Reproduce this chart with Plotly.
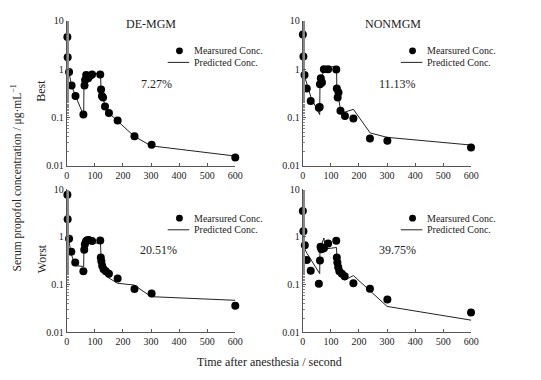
import plotly.graph_objects as go

# The page body has an 8px margin, so the figure is sized to fill the rest of the window
PAGE_OFFSET = 8
W, H = 541 - PAGE_OFFSET, 380 - PAGE_OFFSET

# ---------------- data ----------------
panels = ["DE-MGM Best", "NONMGM Best", "DE-MGM Worst", "NONMGM Worst"]
col_titles = ["DE-MGM", "NONMGM"]
row_titles = ["Best", "Worst"]
errors = ["7.27%", "11.13%", "20.51%", "39.75%"]
x_ticks = [0, 100, 200, 300, 400, 500, 600]
y_ticks = [0.01, 0.1, 1, 10]
y_ticklabels = ["0.01", "0.1", "1", "10"]

# DE-MGM Best
t_meas_1 = [2, 3, 8, 17, 31, 59, 63, 65, 69, 76, 82, 90, 119, 122, 125, 129, 136, 150, 181, 241, 302, 600]
c_meas_1 = [4.6, 1.77, 0.87, 0.46, 0.28, 0.115, 0.46, 0.60, 0.76, 0.65, 0.72, 0.78, 0.78, 0.38, 0.28, 0.26, 0.17, 0.124, 0.087, 0.041, 0.0275, 0.015]
t_pred_1 = [0, 3, 8, 17, 31, 60, 61, 65, 70, 90, 120, 122, 125, 130, 136, 150, 180, 240, 300, 600]
c_pred_1 = [4.6, 1.7, 0.85, 0.45, 0.28, 0.11, 0.45, 0.62, 0.75, 0.8, 0.82, 0.38, 0.29, 0.25, 0.17, 0.124, 0.087, 0.041, 0.026, 0.016]

# NONMGM Best
t_meas_2 = [0, 2, 6, 14, 28, 57, 60, 61, 64, 68, 75, 90, 119, 121, 124, 127, 134, 150, 180, 239, 301, 599]
c_meas_2 = [5.2, 1.83, 0.76, 0.40, 0.22, 0.16, 0.165, 0.49, 0.65, 0.53, 1.0, 1.0, 0.98, 0.40, 0.26, 0.33, 0.138, 0.108, 0.096, 0.037, 0.033, 0.024]
t_pred_2 = [0, 3, 10, 15, 30, 60, 61, 70, 90, 120, 121, 125, 135, 150, 180, 240, 300, 600]
c_pred_2 = [5.5, 0.9, 0.6, 0.48, 0.25, 0.115, 0.5, 0.8, 1.1, 1.15, 0.4, 0.3, 0.135, 0.13, 0.148, 0.048, 0.039, 0.027]

# DE-MGM Worst
t_meas_3 = [2, 3, 8, 16, 30, 59, 62, 64, 68, 72, 78, 90, 119, 121, 123, 126, 131, 139, 150, 181, 241, 302, 600]
c_meas_3 = [7.6, 2.35, 0.92, 0.49, 0.29, 0.19, 0.54, 0.69, 0.8, 0.85, 0.86, 0.82, 0.84, 0.37, 0.31, 0.25, 0.21, 0.19, 0.17, 0.134, 0.081, 0.065, 0.036]
t_pred_3 = [0, 3, 8, 15, 30, 60, 61, 66, 75, 120, 122, 130, 140, 180, 240, 300, 600]
c_pred_3 = [7.6, 2.0, 0.8, 0.45, 0.25, 0.24, 0.6, 0.78, 0.75, 0.74, 0.35, 0.22, 0.15, 0.107, 0.098, 0.056, 0.047]

# NONMGM Worst
t_meas_4 = [0, 2, 7, 14, 28, 57, 61, 63, 66, 75, 90, 119, 121, 123, 126, 130, 139, 149, 180, 239, 301, 599]
c_meas_4 = [3.5, 1.32, 0.67, 0.33, 0.195, 0.105, 0.32, 0.62, 0.55, 0.58, 0.73, 0.83, 0.37, 0.29, 0.23, 0.19, 0.17, 0.15, 0.107, 0.082, 0.049, 0.026]
t_pred_4 = [0, 4, 15, 60, 61, 75, 80, 120, 122, 140, 150, 180, 300, 600]
c_pred_4 = [3.8, 0.6, 0.45, 0.17, 0.55, 0.95, 0.56, 0.6, 0.3, 0.13, 0.125, 0.155, 0.035, 0.018]

meas_t = [t_meas_1, t_meas_2, t_meas_3, t_meas_4]
meas_c = [c_meas_1, c_meas_2, c_meas_3, c_meas_4]
pred_t = [t_pred_1, t_pred_2, t_pred_3, t_pred_4]
pred_c = [c_pred_1, c_pred_2, c_pred_3, c_pred_4]

# ---------------- layout ----------------
FONT = "Liberation Serif"
px = lambda v: (v - PAGE_OFFSET) / W          # window pixel -> paper x
py = lambda v: 1 - (v - PAGE_OFFSET) / H      # window pixel -> paper y

x_domains = [[px(65), px(237)], [px(306), px(478)], [px(65), px(237)], [px(306), px(478)]]
y_domains = [[py(165), py(15)], [py(165), py(15)], [py(337), py(189)], [py(337), py(189)]]

fig = go.Figure()

for i in range(4):
    xa = "x" if i == 0 else f"x{i+1}"
    ya = "y" if i == 0 else f"y{i+1}"
    fig.add_trace(go.Scatter(x=pred_t[i], y=pred_c[i], mode="lines",
                             line=dict(color="#222222", width=1),
                             xaxis=xa, yaxis=ya, showlegend=False, cliponaxis=False))
    fig.add_trace(go.Scatter(x=meas_t[i], y=meas_c[i], mode="markers",
                             marker=dict(color="black", size=8),
                             xaxis=xa, yaxis=ya, showlegend=False, cliponaxis=False))

layout = dict(
    width=W, height=H,
    margin=dict(l=0, r=0, t=0, b=0),
    paper_bgcolor="white", plot_bgcolor="white",
    font=dict(family=FONT, size=10, color="#222222"),
    showlegend=False,
)
for i in range(4):
    sx = "xaxis" if i == 0 else f"xaxis{i+1}"
    sy = "yaxis" if i == 0 else f"yaxis{i+1}"
    ya = "y" if i == 0 else f"y{i+1}"
    xa = "x" if i == 0 else f"x{i+1}"
    layout[sx] = dict(domain=x_domains[i], anchor=ya, range=[0, 600],
                      tickvals=x_ticks, ticks="inside", ticklen=3, tickcolor="#555",
                      showline=True, linecolor="#555", linewidth=1,
                      showgrid=False, zeroline=False,
                      tickfont=dict(family=FONT, size=10, color="#222"))
    layout[sy] = dict(domain=y_domains[i], anchor=xa, type="log", range=[-2, 1],
                      tickvals=y_ticks, ticktext=y_ticklabels,
                      ticks="inside", ticklen=3, tickcolor="#555",
                      minor=dict(ticks="inside", ticklen=2, tickcolor="#888", showgrid=False),
                      showline=True, linecolor="#555", linewidth=1,
                      showgrid=False, zeroline=False,
                      tickfont=dict(family=FONT, size=10, color="#222"))
fig.update_layout(**layout)

ann = []
shapes = []


def add_text(text, x, y, size, xanchor="center", angle=0):
    ann.append(dict(text=text, x=px(x), y=py(y), xref="paper", yref="paper",
                    xanchor=xanchor, yanchor="middle", textangle=angle,
                    showarrow=False, font=dict(family=FONT, size=size, color="#222")))


# column titles
add_text(col_titles[0], 151, 18, 12)
add_text(col_titles[1], 398, 18, 12)
# row titles
add_text(row_titles[0], 39, 87, 12, angle=-90)
add_text(row_titles[1], 39, 261, 12, angle=-90)
# error percentages
err_pos = [(157, 80), (403, 80), (159, 252), (403, 252)]
for e, (ex, ey) in zip(errors, err_pos):
    add_text(e, ex, ey, 12)
# legends
leg_pos = [(168, 46), (406, 46), (168, 219), (406, 219)]
for lx, ly in leg_pos:
    mx = lx + 12
    shapes.append(dict(type="circle", xref="paper", yref="paper",
                       x0=px(mx - 3.5), x1=px(mx + 3.5), y0=py(ly + 3.5), y1=py(ly - 3.5),
                       fillcolor="black", line=dict(color="black", width=0)))
    shapes.append(dict(type="line", xref="paper", yref="paper",
                       x0=px(lx), x1=px(lx + 22), y0=py(ly + 12), y1=py(ly + 12),
                       line=dict(color="#222", width=1)))
    add_text("Mearsured Conc.", lx + 25, ly, 10, xanchor="left")
    add_text("Predicted Conc.", lx + 25, ly + 12, 10, xanchor="left")
# axis titles
add_text("Serum propofol concentration / μg·mL<sup>−1</sup>", 14, 177, 11.5, angle=-90)
add_text("Time after anesthesia / second", 272, 368, 12)

fig.update_layout(annotations=ann, shapes=shapes)
fig.write_html("out.html")
